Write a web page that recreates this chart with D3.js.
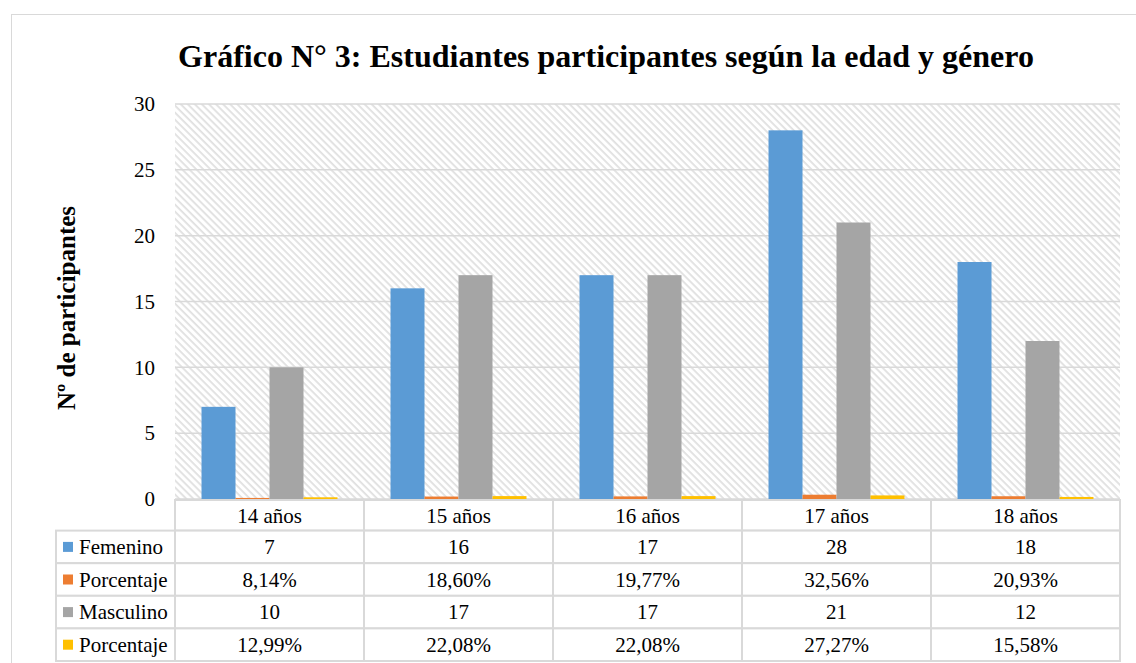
<!DOCTYPE html>
<meta charset="utf-8">
<script src="https://d3js.org/d3.v7.min.js"></script>
<style>
	body { margin: 0; background: #fff; }
	svg { display: block; }
</style>
<body>
	<div id="chart"></div>
</body>
<script>
	// Data
	const categories = ["14 años", "15 años", "16 años", "17 años", "18 años"];
	const femenino = [7, 16, 17, 28, 18];
	const porcFemenino = [8.14, 18.60, 19.77, 32.56, 20.93];
	const masculino = [10, 17, 17, 21, 12];
	const porcMasculino = [12.99, 22.08, 22.08, 27.27, 15.58];
	const yTicks = [0, 5, 10, 15, 20, 25, 30];

	const series = [
		{ name: "Femenino", color: "#5B9BD5", values: femenino, pct: false },
		{ name: "Porcentaje", color: "#ED7D31", values: porcFemenino, pct: true },
		{ name: "Masculino", color: "#A5A5A5", values: masculino, pct: false },
		{ name: "Porcentaje", color: "#FFC000", values: porcMasculino, pct: true }
	];

	const width = 1136, height = 663;
	const plot = { left: 175, right: 1120, top: 104, bottom: 499 };
	const rowH = 32.6, tableLeft = 56;
	const serif = "'Liberation Serif', 'Times New Roman', serif";

	const svg = d3.select("#chart").append("svg")
		.attr("width", width)
		.attr("height", height)
		.style("font-family", serif);

	// hatch pattern for the plot area
	const defs = svg.append("defs");
	const pat = defs.append("pattern")
		.attr("id", "hatch")
		.attr("patternUnits", "userSpaceOnUse")
		.attr("width", 5)
		.attr("height", 5)
		.attr("patternTransform", "rotate(45)");
	pat.append("rect").attr("width", 5).attr("height", 5).attr("fill", "#fff");
	pat.append("rect").attr("width", 5).attr("height", 1.8).attr("fill", "#e0e0e0");

	// outer frame
	svg.append("rect")
		.attr("x", 11.5).attr("y", 14.5)
		.attr("width", width).attr("height", height)
		.attr("fill", "none")
		.attr("stroke", "#d9d9d9");

	const x = d3.scaleBand()
		.domain(categories)
		.range([plot.left, plot.right]);

	const xInner = d3.scaleBand()
		.domain(d3.range(series.length))
		.range([0, x.bandwidth()])
		.paddingOuter(0.78);

	const y = d3.scaleLinear()
		.domain([0, 30])
		.range([plot.bottom, plot.top]);

	svg.append("rect")
		.attr("x", plot.left).attr("y", plot.top)
		.attr("width", plot.right - plot.left)
		.attr("height", plot.bottom - plot.top)
		.attr("fill", "url(#hatch)");

	// gridlines
	svg.append("g")
		.selectAll("line")
		.data(yTicks)
		.join("line")
		.attr("x1", plot.left).attr("x2", plot.right)
		.attr("y1", d => y(d)).attr("y2", d => y(d))
		.attr("stroke", "#d9d9d9")
		.attr("stroke-width", 1.5);

	// y axis labels
	const yAxis = svg.append("g")
		.attr("transform", `translate(${plot.left - 8},0)`)
		.call(d3.axisLeft(y).tickValues(yTicks).tickSize(0).tickPadding(12));
	yAxis.select(".domain").remove();
	yAxis.attr("font-family", null);
	yAxis.selectAll("text")
		.style("font-family", serif)
		.attr("font-size", 21)
		.attr("fill", "#000");

	// bars
	series.forEach((s, si) => {
		svg.append("g")
			.selectAll("rect")
			.data(s.values)
			.join("rect")
			.attr("x", (d, i) => x(categories[i]) + xInner(si))
			.attr("width", xInner.bandwidth())
			.attr("y", d => y(s.pct ? d / 100 : d))
			.attr("height", d => plot.bottom - y(s.pct ? d / 100 : d))
			.attr("fill", s.color);
	});

	// title
	svg.append("text")
		.attr("x", 606).attr("y", 67)
		.attr("text-anchor", "middle")
		.style("font-family", serif)
		.attr("font-size", 32)
		.attr("font-weight", "bold")
		.text("Gráfico N° 3: Estudiantes participantes según la edad y género");

	// y axis title
	svg.append("text")
		.attr("transform", "translate(75,308) rotate(-90)")
		.attr("text-anchor", "middle")
		.style("font-family", serif)
		.attr("font-size", 25)
		.attr("font-weight", "bold")
		.text("Nº de participantes");

	// data table
	const table = svg.append("g").style("font-family", serif);
	const borderColor = "#d9d9d9";
	const fmt = v => v.toFixed(2).replace(".", ",") + "%";

	// header row
	table.selectAll(".hdr")
		.data(categories)
		.join("rect")
		.attr("x", d => x(d)).attr("y", plot.bottom + 1)
		.attr("width", x.bandwidth()).attr("height", rowH - 2)
		.attr("fill", "#fff")
		.attr("stroke", borderColor).attr("stroke-width", 2);
	table.selectAll(".hdrText")
		.data(categories)
		.join("text")
		.attr("x", d => x(d) + x.bandwidth() / 2)
		.attr("y", plot.bottom + 1 + (rowH - 2) / 2)
		.attr("dy", "0.35em")
		.attr("text-anchor", "middle")
		.attr("font-size", 21)
		.text(d => d);

	series.forEach((s, si) => {
		const top = plot.bottom + 1 + (rowH - 2) + si * rowH;
		const row = table.append("g");
		row.append("rect")
			.attr("x", tableLeft).attr("y", top)
			.attr("width", plot.left - tableLeft).attr("height", rowH)
			.attr("fill", "#fff")
			.attr("stroke", borderColor).attr("stroke-width", 2);
		row.append("rect")
			.attr("x", tableLeft + 7).attr("y", top + rowH / 2 - 5)
			.attr("width", 10).attr("height", 10)
			.attr("fill", s.color);
		row.append("text")
			.attr("x", tableLeft + 23).attr("y", top + rowH / 2)
			.attr("dy", "0.35em")
			.attr("font-size", 21)
			.text(s.name);
		row.selectAll(".cell")
			.data(s.values)
			.join("rect")
			.attr("x", (d, i) => x(categories[i])).attr("y", top)
			.attr("width", x.bandwidth()).attr("height", rowH)
			.attr("fill", "#fff")
			.attr("stroke", borderColor).attr("stroke-width", 2);
		row.selectAll(".cellText")
			.data(s.values)
			.join("text")
			.attr("x", (d, i) => x(categories[i]) + x.bandwidth() / 2)
			.attr("y", top + rowH / 2)
			.attr("dy", "0.35em")
			.attr("text-anchor", "middle")
			.attr("font-size", 21)
			.text(d => s.pct ? fmt(d) : d);
	});
</script>
